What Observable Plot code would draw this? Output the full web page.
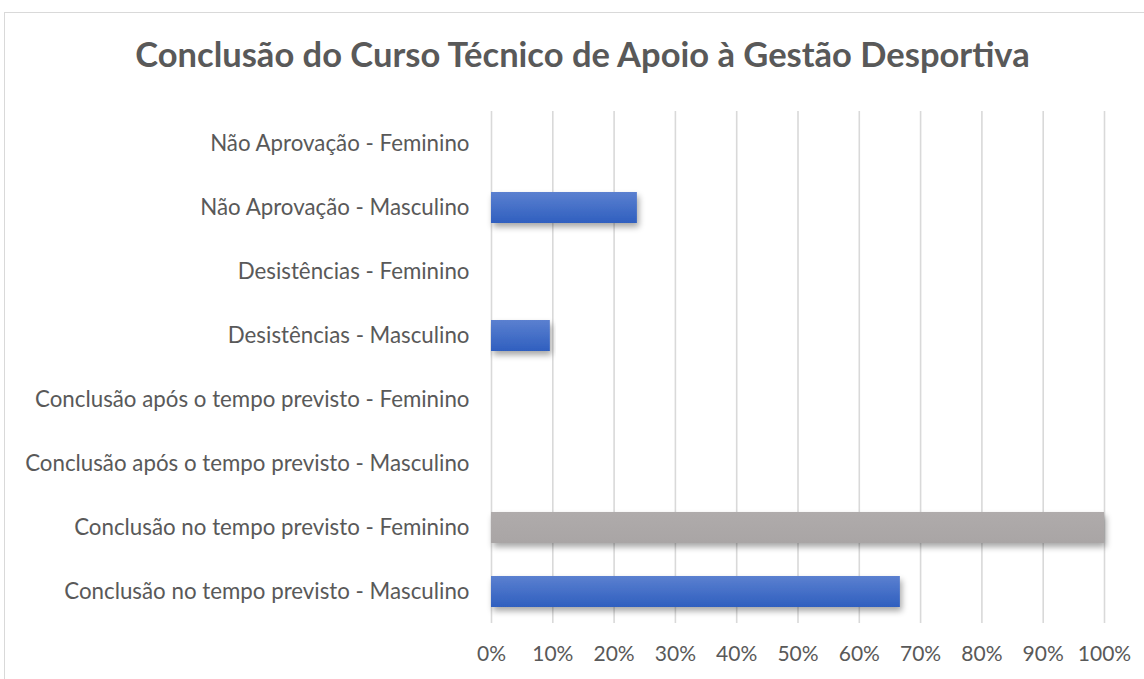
<!DOCTYPE html>
<html><head><meta charset="utf-8">
<script src="https://cdn.jsdelivr.net/npm/d3@7"></script>
<script src="https://cdn.jsdelivr.net/npm/@observablehq/plot@0.6"></script>
<style>
html,body{margin:0;padding:0;background:#fff;overflow:hidden;}
#frame{position:absolute;left:4px;top:12px;width:1200px;height:700px;border:1px solid #d9d9d9;box-sizing:border-box;}
#title{position:absolute;left:0;top:0;width:1144px;height:100px;text-align:center;font-family:Lato,"Open Sans",sans-serif;font-weight:bold;font-size:34.5px;color:#595959;line-height:1;padding-top:37px;padding-left:21px;box-sizing:border-box;white-space:nowrap;}
#chart{position:absolute;left:0;top:100px;}
</style></head><body>
<div id="frame"></div>
<div id="title">Conclusão do Curso Técnico de Apoio à Gestão Desportiva</div>
<div id="chart"></div>
<script>
const categories = [
  "Não Aprovação - Feminino",
  "Não Aprovação - Masculino",
  "Desistências - Feminino",
  "Desistências - Masculino",
  "Conclusão após o tempo previsto - Feminino",
  "Conclusão após o tempo previsto - Masculino",
  "Conclusão no tempo previsto - Feminino",
  "Conclusão no tempo previsto - Masculino"
];
const values = [0, 0.238, 0, 0.096, 0, 0, 1.0, 0.667];
const genders = ["F","M","F","M","F","M","F","M"];
const xTicks = [0,0.1,0.2,0.3,0.4,0.5,0.6,0.7,0.8,0.9,1.0];

const data = categories.map((c,i)=>({cat:c, v:values[i], g:genders[i]}));

const chart = Plot.plot({
  width: 1144,
  height: 579,
  marginTop: 11,
  marginBottom: 56,
  marginLeft: 491,
  marginRight: 40,
  style: {fontFamily: "Lato, 'Open Sans', sans-serif", fontSize: "21px", color: "#595959", background: "transparent"},
  x: {domain: [0,1], ticks: xTicks, tickFormat: d => Math.round(d*100) + "%", tickSize: 0, tickPadding: 23, label: null},
  y: {domain: categories, paddingInner: 0.52, paddingOuter: 0.26, tickSize: 0, tickPadding: 22, label: null},
  marks: [
    Plot.ruleX(xTicks, {stroke: "#d9d9d9", strokeWidth: 1.6, strokeOpacity: 1}),
    Plot.barX(data, {x: "v", y: "cat", fill: d => d.g === "F" ? "url(#gGray)" : "url(#gBlue)", filter: d => d.v > 0})
  ]
});

const ns = "http://www.w3.org/2000/svg";
const defs = document.createElementNS(ns, "defs");
defs.innerHTML = `
<linearGradient id="gBlue" x1="0" y1="0" x2="0" y2="1">
  <stop offset="0" stop-color="#5b80d0"/>
  <stop offset="1" stop-color="#2f5fbf"/>
</linearGradient>
<linearGradient id="gGray" x1="0" y1="0" x2="0" y2="1">
  <stop offset="0" stop-color="#afabab"/>
  <stop offset="1" stop-color="#a9a5a5"/>
</linearGradient>
<filter id="shadow" x="-5%" y="-30%" width="115%" height="180%">
  <feGaussianBlur in="SourceAlpha" stdDeviation="3"/>
  <feOffset dx="2" dy="4" result="b"/>
  <feComponentTransfer><feFuncA type="linear" slope="0.35"/></feComponentTransfer>
  <feMerge><feMergeNode/><feMergeNode in="SourceGraphic"/></feMerge>
</filter>`;
chart.insertBefore(defs, chart.firstChild);
chart.querySelectorAll("[aria-label='bar'] rect").forEach(r => r.setAttribute("filter","url(#shadow)"));
chart.querySelectorAll("[aria-label='y-axis tick label']").forEach(g => g.setAttribute("font-size","22.3"));
chart.querySelectorAll("[aria-label='x-axis tick label']").forEach(g => g.setAttribute("font-size","21"));
document.getElementById("chart").appendChild(chart);
</script>
</body></html>
